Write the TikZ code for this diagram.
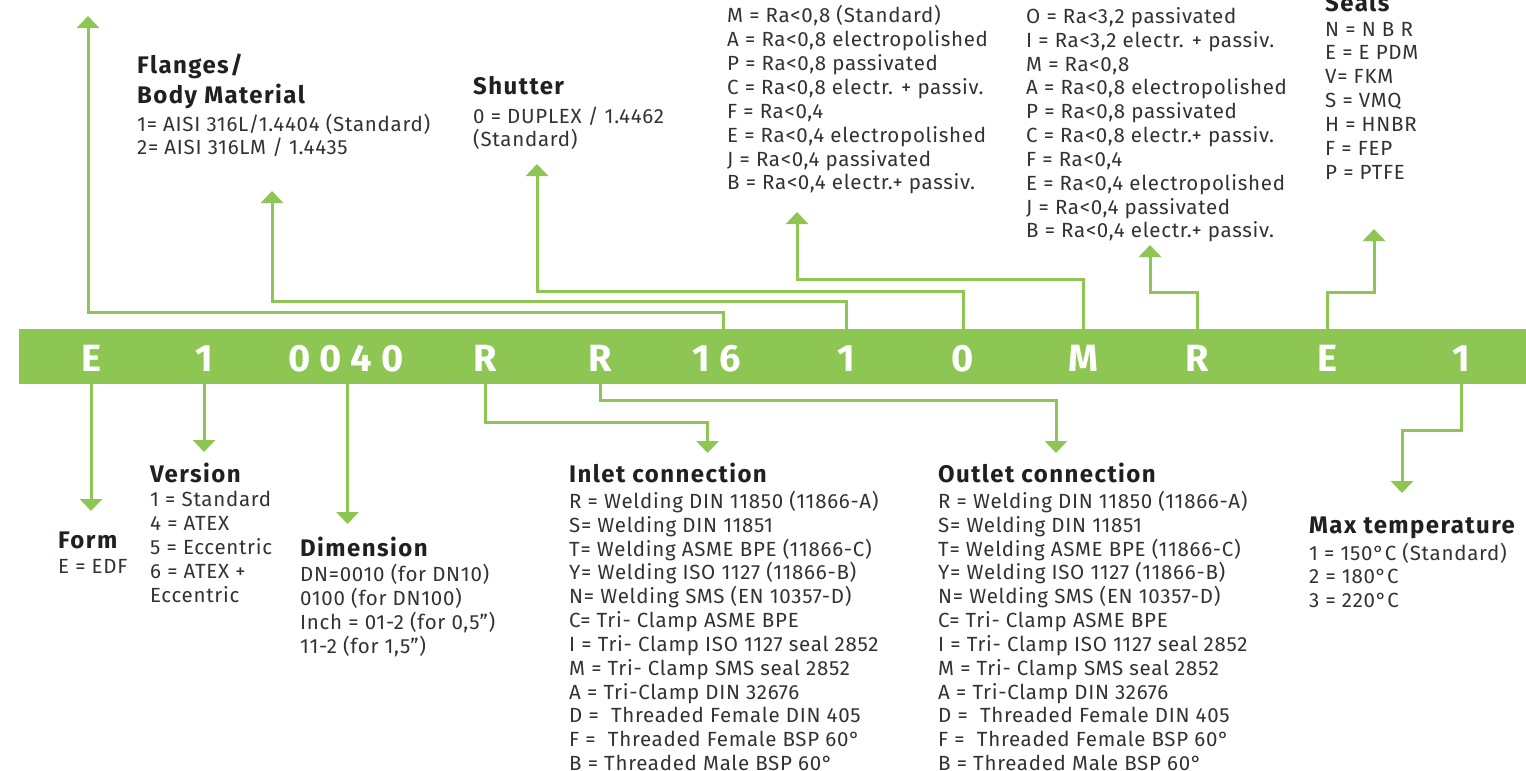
\documentclass[tikz,border=0pt]{standalone}
\usepackage{fontspec}
\setmainfont{Fira Sans}
\usetikzlibrary{arrows.meta}
\definecolor{vgreen}{RGB}{141,198,83}
\definecolor{ttl}{RGB}{35,31,32}
\definecolor{itm}{RGB}{50,50,50}
\tikzset{
  conn/.style={draw=vgreen, line width=3pt, -{Triangle[width=22pt,length=12pt]}},
  codech/.style={text=white, font=\fontsize{38}{38}\selectfont\bfseries, anchor=base, inner sep=0pt},
  codewide/.style={codech, font=\fontsize{38}{38}\selectfont\bfseries\addfontfeature{LetterSpace=24}},
  ttlnode/.style={text=ttl, font=\fontsize{24}{30}\selectfont\bfseries\addfontfeature{LetterSpace=6}, anchor=base west, inner sep=0pt},
  itemnode/.style={text=itm, font=\fontsize{20.5}{24}\selectfont\addfontfeature{LetterSpace=3.5}, anchor=base west, inner sep=0pt},
}
\newcommand\itemlist[4]{\foreach \t [count=\i from 0] in {#4} {\node[itemnode] (#1\i) at (#2, #3+\i*23.85) {\t};}}
\begin{document}
\begin{tikzpicture}[x=1pt,y=-1pt]
\useasboundingbox (0,0) rectangle (1526,771);
\clip (0,0) rectangle (1526,771);
% bar
\node[fill=vgreen, draw=none, inner sep=0pt, minimum width=1507pt, minimum height=55pt, anchor=north west] (bar) at (19,329) {};
\node[codech] (cE) at (91,371) {E};
\node[codech] (cV) at (204,371) {1};
\node[codewide] (cDim) at (346,371) {0040};
\node[codech] (cIn) at (485,371) {R};
\node[codech] (cOut) at (600,371) {R};
\node[codewide] (cFl) at (717,371) {16};
\node[codech] (cBody) at (846,371) {1};
\node[codech] (cSh) at (963,371) {0};
\node[codech] (cInt) at (1083,371) {M};
\node[codech] (cExt) at (1197,371) {R};
\node[codech] (cSeal) at (1327,371) {E};
\node[codech] (cTemp) at (1461,371) {1};
% arrow tips
\coordinate (aTop) at (88,16);
\coordinate (aFl) at (272,191);
\coordinate (aSh) at (537,164);
\coordinate (aInt) at (797,212);
\coordinate (aExt) at (1150,245);
\coordinate (aSeal) at (1374,229);
\coordinate (aForm) at (91,511);
\coordinate (aVer) at (204,452);
\coordinate (aDim) at (347.5,524);
\coordinate (aIn) at (707.5,453);
\coordinate (aOut) at (1056,453);
\coordinate (aMax) at (1402,493);
\coordinate (r16) at (723,329);
% connectors above
\draw[conn] (r16) -- ++(0,-17) -| (aTop);
\draw[conn] (bar.north -| cBody) -- ++(0,-28) -| (aFl);
\draw[conn] (bar.north -| cSh) -- ++(0,-38) -| (aSh);
\draw[conn] (bar.north -| cInt) -- ++(0,-50) -| (aInt);
\draw[conn] (bar.north -| cExt) -- ++(0,-37) -| (aExt);
\draw[conn] (bar.north -| cSeal) -- ++(0,-37) -| (aSeal);
% connectors below
\draw[conn] (bar.south -| cE) -- (aForm);
\draw[conn] (bar.south -| cV) -- (aVer);
\draw[conn] (bar.south -| aDim) -- (aDim);
\draw[conn] (bar.south -| cIn) -- ++(0,38) -| (aIn);
\draw[conn] (bar.south -| cOut) -- ++(0,16) -| (aOut);
\draw[conn] (bar.south -| cTemp) -- ++(0,46) -| (aMax);
% text blocks above
\node[ttlnode] (tFl1) at (137,73) {Flanges/};
\node[ttlnode] (tFl2) at (137,103) {Body Material};
\itemlist{iFl}{137}{131}{{1= AISI 316L/1.4404 (Standard)},{2= AISI 316LM / 1.4435}}
\node[ttlnode] (tSh) at (473,94) {Shutter};
\itemlist{iSh}{473}{123}{{0 = DUPLEX / 1.4462},{(Standard)}}
\itemlist{iInt}{727}{23}{{M = Ra<0,8 (Standard)},{A = Ra<0,8 electropolished},{P = Ra<0,8 passivated},{C = Ra<0,8 electr. + passiv.},{F = Ra<0,4},{E = Ra<0,4 electropolished},{J = Ra<0,4 passivated},{B = Ra<0,4 electr.+ passiv.}}
\itemlist{iExt}{1026}{23.3}{{O = Ra<3,2 passivated},{I = Ra<3,2 electr. + passiv.},{M = Ra<0,8},{A = Ra<0,8 electropolished},{P = Ra<0,8 passivated},{C = Ra<0,8 electr.+ passiv.},{F = Ra<0,4},{E = Ra<0,4 electropolished},{J = Ra<0,4 passivated},{B = Ra<0,4 electr.+ passiv.}}
\node[ttlnode] (tSeal) at (1325,12) {Seals};
\itemlist{iSeal}{1325}{36}{{N = N B R},{E = E PDM},{V= FKM},{S = VMQ},{H = HNBR},{F = FEP},{P = PTFE}}
% text blocks below
\node[ttlnode] (tForm) at (58,548) {Form};
\itemlist{iForm}{58}{573}{{E = EDF}}
\node[ttlnode] (tVer) at (150,482.7) {Version};
\itemlist{iVer}{150}{506.7}{{1 = Standard},{4 = ATEX},{5 = Eccentric},{6 = ATEX +},{Eccentric}}
\node[ttlnode] (tDim) at (300,556.7) {Dimension};
\itemlist{iDim}{300}{581.7}{{DN=0010 (for DN10)},{0100 (for DN100)},{Inch = 01-2 (for 0,5”)},{11-2 (for 1,5”)}}
\node[ttlnode] (tIn) at (569,482.7) {Inlet connection};
\itemlist{iIn}{569}{508.3}{{R = Welding DIN 11850 (11866-A)},{S= Welding DIN 11851},{T= Welding ASME BPE (11866-C)},{Y= Welding ISO 1127 (11866-B)},{N= Welding SMS (EN 10357-D)},{C= Tri- Clamp ASME BPE},{I = Tri- Clamp ISO 1127 seal 2852},{M = Tri- Clamp SMS seal 2852},{A = Tri-Clamp DIN 32676},{D = \ Threaded Female DIN 405},{F = \ Threaded Female BSP 60°},{B = Threaded Male BSP 60°}}
\node[ttlnode] (tOut) at (938,482.7) {Outlet connection};
\itemlist{iOut}{938}{508.3}{{R = Welding DIN 11850 (11866-A)},{S= Welding DIN 11851},{T= Welding ASME BPE (11866-C)},{Y= Welding ISO 1127 (11866-B)},{N= Welding SMS (EN 10357-D)},{C= Tri- Clamp ASME BPE},{I = Tri- Clamp ISO 1127 seal 2852},{M = Tri- Clamp SMS seal 2852},{A = Tri-Clamp DIN 32676},{D = \ Threaded Female DIN 405},{F = \ Threaded Female BSP 60°},{B = Threaded Male BSP 60°}}
\node[ttlnode] (tMax) at (1309,533) {Max temperature};
\itemlist{iMax}{1309}{560}{{1 = 150°C (Standard)},{2 = 180°C},{3 = 220°C}}
\end{tikzpicture}
\end{document}
